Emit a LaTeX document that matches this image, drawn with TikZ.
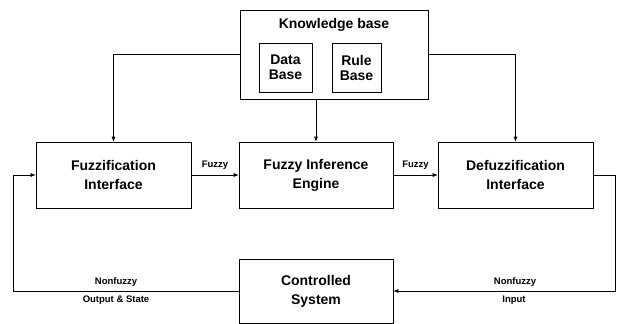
\documentclass[tikz,border=0pt]{standalone}
\usepackage{fontspec}
\setmainfont{Liberation Sans}
\usepackage{tikz}
\usetikzlibrary{arrows, arrows.meta}
\usetikzlibrary{positioning}

\begin{document}
\begin{tikzpicture}[x=1pt,y=1pt]
\tikzstyle{every node}+=[inner sep=0pt, font=\bfseries]
\tikzstyle{block}=[draw=black, line width=0.6pt, align=center, font=\fontsize{14}{19}\selectfont\bfseries]
\tikzstyle{lbl}=[font=\fontsize{9.5}{10}\selectfont\bfseries]
\tikzstyle{conn}=[line width=0.6pt, -{Latex[length=5pt,width=4pt]}]
\useasboundingbox (0,0) rectangle (622,-324);
\node [block, minimum width=188, minimum height=89] (kb) at (334,-54.5) {};
\node [font=\fontsize{14}{15}\selectfont\bfseries] (kbtitle) at (334,-25) {Knowledge base};
\node [block, minimum width=53, minimum height=49, font=\fontsize{14}{15}\selectfont\bfseries] (db) at (285.5,-67.5) {Data\\Base};
\node [block, minimum width=49, minimum height=49, font=\fontsize{14}{15}\selectfont\bfseries] (rb) at (356.5,-67.5) {Rule\\Base};
\node [block, minimum width=155, minimum height=66] (fi) at (113.5,-175) {Fuzzification\\Interface};
\node [block, minimum width=154, minimum height=66] (fie) at (316,-175) {Fuzzy Inference\\Engine};
\node [block, minimum width=155, minimum height=66] (di) at (515.5,-175) {Defuzzification\\Interface};
\node [block, minimum width=154, minimum height=64] (cs) at (316,-291) {Controlled\\System};
\coordinate (outl) at (13,-291);
\coordinate (inr) at (615,-291);
\draw [conn] (kb.west) -| (fi.north);
\draw [conn] (kb.south -| fie.north) -- (fie.north);
\draw [conn] (kb.east) -| (di.north);
\draw [conn] (fi.east) -- node [lbl, above=5pt] {Fuzzy} (fie.west);
\draw [conn] (fie.east) -- node [lbl, above=5pt] {Fuzzy} (di.west);
\draw [conn] (di.east) -| (inr) -- (cs.east);
\draw [conn] (cs.west) -- (outl) |- (fi.west);
\node [lbl] (nfl) at (116,-282) {Nonfuzzy};
\node [lbl] (osl) at (116,-300) {Output \& State};
\node [lbl] (nfr) at (515,-282) {Nonfuzzy};
\node [lbl] (inl) at (514,-300) {Input};
\end{tikzpicture}
\end{document}
